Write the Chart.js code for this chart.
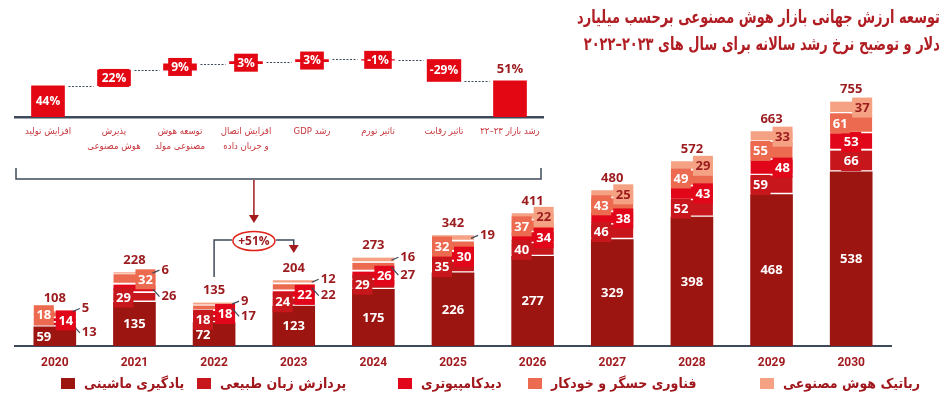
<!DOCTYPE html>
<html>
<head>
<meta charset="utf-8">
<script src="https://cdn.jsdelivr.net/npm/chart.js@4"></script>
<style>
body{margin:0;background:#fff;width:950px;height:400px;overflow:hidden;position:relative;font-family:"DejaVu Sans",sans-serif}
canvas{position:absolute;left:0;top:0}
.title{position:absolute;right:10px;top:3px;direction:rtl;text-align:right;color:#B01E24;font-weight:bold;font-size:18px;line-height:27px;white-space:nowrap;transform:scaleX(0.72);transform-origin:right top}
.item{position:absolute;top:375px;display:flex;align-items:center;gap:9px;color:#A0171C;font-weight:bold;font-size:14px;white-space:nowrap}
.item .t{display:inline-block;transform:scaleX(0.9);transform-origin:left center}
.sw{width:14px;height:11px;display:inline-block}
</style>
</head>
<body>
<canvas id="main" width="950" height="400"></canvas>
<canvas id="wf" width="560" height="160" dir="rtl"></canvas>
<div class="title">توسعه ارزش جهانی بازار هوش مصنوعی برحسب میلیارد<br>دلار و توضیح نرخ رشد سالانه برای سال های ۲۰۲۳–۲۰۲۲</div>
<div id="legend"></div>
<script>
"use strict";

// data
const years = ['2020', '2021', '2022', '2023', '2024', '2025', '2026', '2027', '2028', '2029', '2030'];
const ml = [59, 135, 72, 123, 175, 226, 277, 329, 398, 468, 538];
const nlp = [13, 29, 18, 24, 29, 35, 40, 46, 52, 59, 66];
const vision = [14, 26, 18, 22, 26, 30, 34, 38, 43, 48, 53];
const sensors = [18, 32, 17, 22, 27, 32, 37, 43, 49, 55, 61];
const robotics = [5, 6, 9, 12, 16, 19, 22, 25, 29, 33, 37];
const totals = [108, 228, 135, 204, 273, 342, 411, 480, 572, 663, 755];

const wfLabels = [['افزایش تولید'], ['پذیرش', 'هوش مصنوعی'], ['توسعه هوش', 'مصنوعی مولد'], ['افزایش اتصال', 'و جریان داده'], ['رشد GDP'], ['تاثیر تورم'], ['تاثیر رقابت'], ['رشد بازار ۲۳–۲۲']];
const wfValues = [44, 22, 9, 3, 3, -1, -29, 51];

const seriesNames = ['یادگیری ماشینی', 'پردازش زبان طبیعی', 'دیدکامپیوتری', 'فناوری حسگر و خودکار', 'رباتیک هوش مصنوعی'];
const colors = ['#9C1510', '#C8161D', '#E2061A', '#EC6A4F', '#F4A283'];

// where each value label goes: C centre, L/R box at side, O outside
const places = [
    ['L', 'C', 'L', 'C', 'C', 'C', 'C', 'C', 'C', 'C', 'C'],
    ['O', 'L', 'L', 'L', 'L', 'L', 'L', 'L', 'L', 'L', 'C'],
    ['R', 'O', 'R', 'R', 'R', 'R', 'R', 'R', 'R', 'R', 'C'],
    ['L', 'R', 'O', 'O', 'O', 'L', 'L', 'L', 'L', 'L', 'L'],
    ['O', 'O', 'O', 'O', 'O', 'O', 'R', 'R', 'R', 'R', 'R']
];

const darkRed = '#9B1B1E';
const slate = '#3E4A5B';
const numFont = 'bold 13px "Open Sans"';

const labelPlugin = {
    id: 'labels',
    afterDatasetsDraw(chart) {
        const ctx = chart.ctx;
        ctx.save();
        ctx.font = numFont;
        ctx.textBaseline = 'middle';
        chart.data.datasets.forEach((ds, di) => {
            chart.getDatasetMeta(di).data.forEach((bar, i) => {
                const txt = String(ds.data[i]);
                const p = places[di][i];
                const left = bar.x - bar.width / 2, right = bar.x + bar.width / 2;
                const yc = (bar.y + bar.base) / 2;
                const tw = ctx.measureText(txt).width;
                if (p === 'O') {
                    const dy = di === 4 ? -3 : 8;
                    ctx.strokeStyle = slate;
                    ctx.lineWidth = 1.2;
                    ctx.beginPath();
                    ctx.moveTo(right - 3, yc);
                    ctx.lineTo(right + 4, yc + dy);
                    ctx.stroke();
                    ctx.fillStyle = darkRed;
                    ctx.textAlign = 'left';
                    ctx.fillText(txt, right + 6, yc + dy);
                    return;
                }
                const bw = Math.max(20, tw + 4), bh = 20;
                let bx = bar.x - bw / 2;
                if (p === 'L') bx = left;
                if (p === 'R') bx = right - bw;
                if (di > 0) {
                    ctx.fillStyle = colors[di];
                    ctx.fillRect(bx, yc - bh / 2, bw, bh);
                }
                ctx.fillStyle = di === 4 ? darkRed : '#fff';
                ctx.textAlign = 'center';
                ctx.fillText(txt, bx + bw / 2, yc + 0.5);
            });
        });
        // totals
        const top = chart.getDatasetMeta(4).data;
        ctx.fillStyle = darkRed;
        ctx.textAlign = 'center';
        top.forEach((bar, i) => ctx.fillText(String(totals[i]), bar.x, bar.y - 12));
        ctx.restore();
    },
    afterDraw(chart) {
        const ctx = chart.ctx;
        const xs = chart.scales.x;
        const x22 = xs.getPixelForValue(2), x23 = xs.getPixelForValue(3);
        const mid = (x22 + x23) / 2;
        ctx.save();
        ctx.strokeStyle = slate;
        ctx.lineWidth = 1.5;
        ctx.beginPath();
        ctx.moveTo(16, 168); ctx.lineTo(16, 179); ctx.lineTo(541, 179); ctx.lineTo(541, 168);
        ctx.stroke();
        ctx.beginPath();
        ctx.moveTo(x22, 277); ctx.lineTo(x22, 240); ctx.lineTo(mid - 22, 240);
        ctx.moveTo(mid + 22, 240); ctx.lineTo(x23, 240); ctx.lineTo(x23, 246);
        ctx.stroke();
        // arrows
        ctx.strokeStyle = '#A3191C';
        ctx.fillStyle = '#A3191C';
        ctx.beginPath();
        ctx.moveTo(mid, 180); ctx.lineTo(mid, 216);
        ctx.stroke();
        ctx.beginPath();
        ctx.moveTo(mid - 5, 215); ctx.lineTo(mid + 5, 215); ctx.lineTo(mid, 223); ctx.closePath();
        ctx.fill();
        ctx.beginPath();
        ctx.moveTo(x23 - 5, 245); ctx.lineTo(x23 + 5, 245); ctx.lineTo(x23, 253); ctx.closePath();
        ctx.fill();
        // +51% ellipse
        ctx.strokeStyle = '#E2231A';
        ctx.beginPath();
        ctx.ellipse(mid, 241, 21, 9.5, 0, 0, Math.PI * 2);
        ctx.stroke();
        ctx.fillStyle = darkRed;
        ctx.font = 'bold 12px "Open Sans"';
        ctx.textAlign = 'center';
        ctx.textBaseline = 'middle';
        ctx.fillText('+51%', mid, 241.5);
        ctx.restore();
    }
};

const stacks = [ml, nlp, vision, sensors, robotics];

new Chart(document.getElementById('main'), {
    type: 'bar',
    data: {
        labels: years,
        datasets: stacks.map((d, i) => ({
            label: seriesNames[i],
            data: d,
            backgroundColor: colors[i],
            borderColor: '#fff',
            borderWidth: i === 0 ? 0 : {top: 0, left: 0, right: 0, bottom: 2},
            borderSkipped: false,
            barThickness: 42
        }))
    },
    options: {
        responsive: false,
        animation: false,
        layout: {padding: {left: 15, right: 59, top: 87, bottom: 0}},
        plugins: {legend: {display: false}, tooltip: {enabled: false}},
        scales: {
            x: {
                stacked: true,
                grid: {display: false, drawTicks: false},
                border: {color: slate, width: 2},
                ticks: {color: '#A11B1F', font: {family: 'Roboto', weight: 'bold', size: 12}, padding: 10},
                afterFit(s) { s.height = 54; }
            },
            y: {stacked: true, display: false, min: 0, max: 800}
        }
    },
    plugins: [labelPlugin]
});

// waterfall
let run = 0;
const wfBars = wfValues.map((v, i) => {
    if (i === wfValues.length - 1) return [0, v];
    const b = [run, run + v];
    run += v;
    return b;
});

const wfPlugin = {
    id: 'wfLabels',
    afterDatasetsDraw(chart) {
        const ctx = chart.ctx;
        const ys = chart.scales.y;
        const bars = chart.getDatasetMeta(0).data;
        const last = bars.length - 1;
        ctx.save();
        ctx.direction = 'ltr';
        ctx.font = 'bold 12px "Open Sans"';
        ctx.textAlign = 'center';
        ctx.textBaseline = 'middle';
        // dotted connectors
        ctx.strokeStyle = slate;
        ctx.lineWidth = 1;
        ctx.setLineDash([2, 1.5]);
        for (let i = 0; i < last; i++) {
            const y = Math.round(ys.getPixelForValue(wfBars[i][1])) + 0.5;
            ctx.beginPath();
            ctx.moveTo(bars[i].x + bars[i].width / 2 + 4, y);
            ctx.lineTo(bars[i + 1].x - bars[i + 1].width / 2 - 4, y);
            ctx.stroke();
        }
        ctx.setLineDash([]);
        bars.forEach((bar, i) => {
            const txt = wfValues[i] + '%';
            const yc = (bar.y + bar.base) / 2;
            if (i === 0) {
                ctx.fillStyle = '#fff';
                ctx.fillText(txt, bar.x, yc);
            } else if (i === last) {
                ctx.fillStyle = darkRed;
                ctx.font = 'bold 13px "Open Sans"';
                ctx.fillText(txt, bar.x, Math.min(bar.y, bar.base) - 11);
            } else {
                const tw = ctx.measureText(txt).width;
                const bw = tw + 6, bh = Math.max(18, Math.abs(bar.base - bar.y) + 2);
                ctx.fillStyle = '#E30613';
                ctx.fillRect(bar.x - bw / 2, yc - bh / 2, bw, bh);
                ctx.fillStyle = '#fff';
                ctx.fillText(txt, bar.x, yc + 0.5);
            }
        });
        ctx.restore();
    }
};

new Chart(document.getElementById('wf'), {
    type: 'bar',
    data: {
        labels: wfLabels,
        datasets: [{data: wfBars, backgroundColor: '#E30613', barThickness: 33}]
    },
    options: {
        responsive: false,
        animation: false,
        layout: {padding: {left: 15, right: 17, top: 46, bottom: 0}},
        plugins: {legend: {display: false}, tooltip: {enabled: false}},
        scales: {
            x: {
                grid: {display: false, drawTicks: false},
                border: {color: slate, width: 2.5},
                ticks: {color: '#C7353B', font: {family: '"DejaVu Sans Condensed", "DejaVu Sans"', size: 9.5, lineHeight: 1.6}, padding: 7, maxRotation: 0, autoSkip: false},
                afterFit(s) { s.height = 43; }
            },
            y: {display: false, min: 0, max: 100}
        }
    },
    plugins: [wfPlugin]
});

// legend
const legendLeft = [61, 197, 398, 528, 760];
const legend = document.getElementById('legend');
seriesNames.forEach((name, i) => {
    const el = document.createElement('div');
    el.className = 'item';
    el.style.left = legendLeft[i] + 'px';
    el.innerHTML = '<span class="sw" style="background:' + colors[i] + '"></span><span class="t" dir="rtl">' + name + '</span>';
    legend.appendChild(el);
});
</script>
</body>
</html>
